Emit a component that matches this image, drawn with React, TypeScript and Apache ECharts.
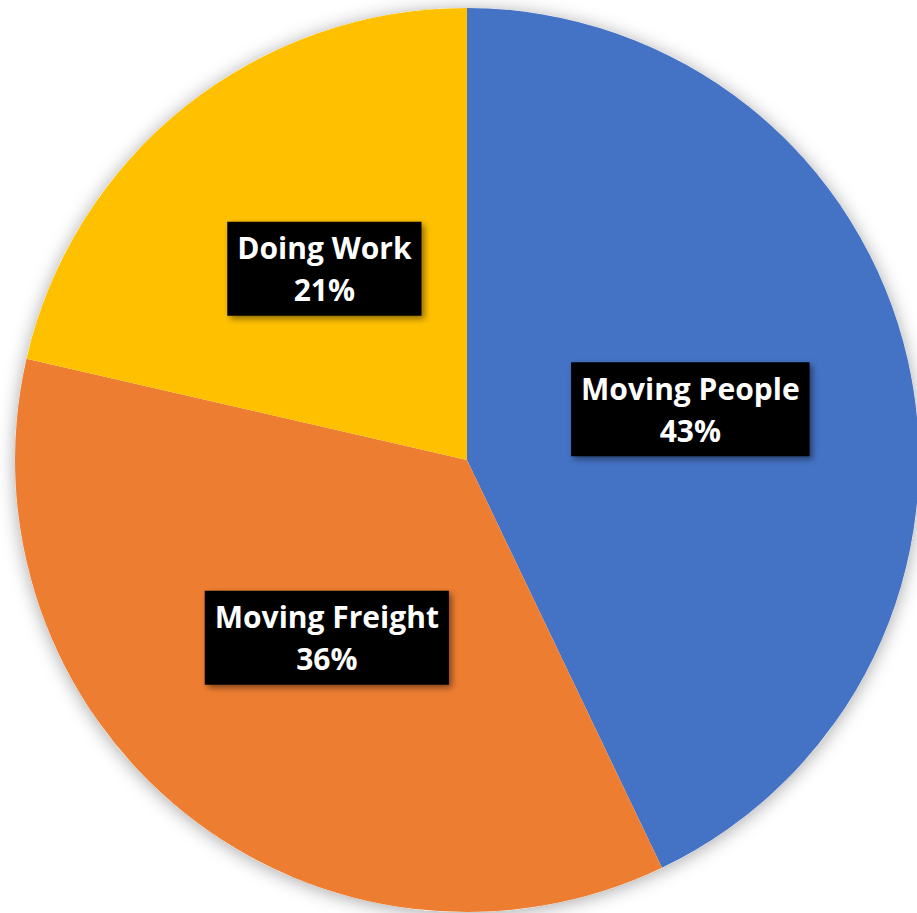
import React, { useEffect, useRef } from "react";
import * as echarts from "echarts";

const categories = ["Moving People", "Moving Freight", "Doing Work"];
const values = [42.9, 35.7, 21.4];
const colors = ["#4472C4", "#ED7D31", "#FFC000"];

export default function App() {
  const ref = useRef<HTMLDivElement>(null);
  useEffect(() => {
    document.body.style.margin = "0";
    const chart = echarts.init(ref.current!, null, { renderer: "svg" });
    const labelOffsets: Record<string, number[]> = {
      "Doing Work": [0, -12],
      "Moving Freight": [3, -1],
    };
    chart.setOption({
      animation: false,
      backgroundColor: "#ffffff",
      series: [
        {
          type: "pie",
          silent: true,
          center: [467, 460],
          radius: [0, 452],
          z: 1,
          label: { show: false },
          labelLine: { show: false },
          itemStyle: {
            color: "#ffffff",
            shadowBlur: 18,
            shadowColor: "rgba(0,0,0,0.35)",
            shadowOffsetX: 0,
            shadowOffsetY: 2,
          },
          data: [{ value: 1, name: "shadow" }],
        },
        {
          type: "pie",
          center: [467, 460],
          radius: [0, 452],
          startAngle: 90,
          clockwise: true,
          z: 2,
          labelLine: { show: false },
          itemStyle: { borderWidth: 0 },
          label: {
            show: true,
            position: "inside",
            formatter: (p: any) => `${p.name}\n${Math.round(p.percent)}%`,
            color: "#ffffff",
            fontFamily: "Open Sans",
            fontWeight: "bold",
            fontSize: 30,
            lineHeight: 42,
            backgroundColor: "#000000",
            padding: [5, 10, 5, 10],
            shadowColor: "rgba(0,0,0,0.45)",
            shadowBlur: 6,
            shadowOffsetX: 3,
            shadowOffsetY: 3,
          },
          data: categories.map((c, i) => ({
            name: c,
            value: values[i],
            itemStyle: { color: colors[i] },
            label: labelOffsets[c] ? { offset: labelOffsets[c] } : {},
          })),
        },
      ],
    });
    return () => chart.dispose();
  }, []);
  return (
    <div
      ref={ref}
      style={{ position: "absolute", left: 0, top: 0, width: 917, height: 913 }}
    />
  );
}
